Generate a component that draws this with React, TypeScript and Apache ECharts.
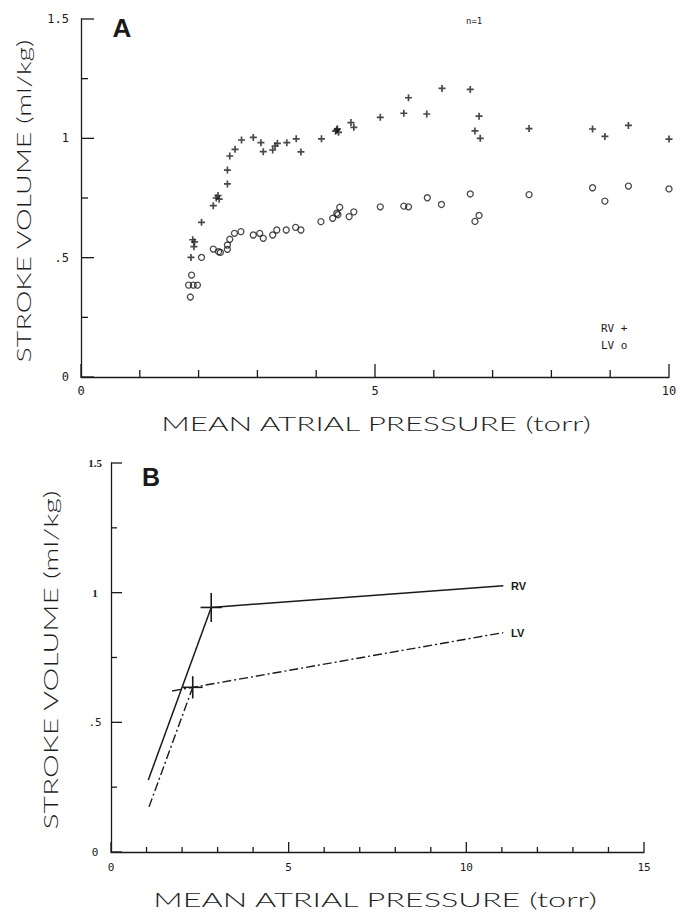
import React, { useEffect, useRef } from 'react';
import * as echarts from 'echarts';

// Panel A: individual measurements (n=1)
const rvPressureA = [1.87, 1.92, 1.9, 1.93, 2.05, 2.25, 2.3, 2.33, 2.35, 2.49, 2.49, 2.53, 2.62, 2.73, 2.93, 3.06, 3.1, 3.26, 3.3, 3.34, 3.5, 3.66, 3.74, 4.09, 4.33, 4.36, 4.38, 4.35, 4.59, 4.64, 5.09, 5.49, 5.57, 5.88, 6.14, 6.62, 6.77, 6.7, 6.79, 7.62, 8.7, 8.91, 9.31, 10.0];
const rvVolumeA = [0.501, 0.546, 0.575, 0.566, 0.648, 0.718, 0.75, 0.76, 0.745, 0.809, 0.867, 0.926, 0.954, 0.993, 1.004, 0.982, 0.944, 0.951, 0.968, 0.979, 0.982, 0.998, 0.943, 0.998, 1.03, 1.04, 1.025, 1.035, 1.066, 1.046, 1.088, 1.105, 1.17, 1.102, 1.209, 1.205, 1.093, 1.031, 1.0, 1.041, 1.039, 1.008, 1.054, 0.997];
const lvPressureA = [1.86, 1.83, 1.91, 1.98, 1.88, 2.05, 2.25, 2.34, 2.37, 2.49, 2.49, 2.53, 2.61, 2.72, 2.93, 3.04, 3.1, 3.26, 3.33, 3.49, 3.65, 3.74, 4.08, 4.28, 4.35, 4.37, 4.4, 4.56, 4.64, 5.09, 5.49, 5.57, 5.89, 6.13, 6.62, 6.77, 6.7, 7.62, 8.7, 8.91, 9.31, 10.0];
const lvVolumeA = [0.335, 0.385, 0.385, 0.385, 0.427, 0.501, 0.536, 0.525, 0.522, 0.553, 0.535, 0.577, 0.602, 0.609, 0.595, 0.602, 0.581, 0.595, 0.616, 0.616, 0.627, 0.616, 0.651, 0.665, 0.686, 0.68, 0.711, 0.672, 0.692, 0.713, 0.716, 0.713, 0.751, 0.723, 0.767, 0.677, 0.652, 0.764, 0.793, 0.737, 0.8, 0.788];

// Panel B: fitted function curves
const rvSteepB = [[1.05, 0.278], [2.82, 0.943]];
const rvFlatB = [[2.82, 0.943], [11.04, 1.027]];
const lvSteepB = [[1.07, 0.174], [2.3, 0.635]];
const lvFlatB = [[1.72, 0.621], [2.3, 0.635], [11.04, 0.846]];
// [pressure, volume, pressure error, volume error]
const rvMeanB = [2.82, 0.943, 0.3, 0.056];
const lvMeanB = [2.3, 0.635, 0.28, 0.043];

// Axis ticks
const xTicksA = [0, 1, 2, 3, 4, 5, 6, 7, 8, 9, 10];
const xTicksB = [0, 1, 2, 3, 4, 5, 6, 7, 8, 9, 10, 11, 12, 13, 14, 15];
const yTicks = [0, 0.25, 0.5, 0.75, 1, 1.25, 1.5];

const xMaxA = 10;
const xMaxB = 15;
const yMax = 1.5;

const xTitle = 'MEAN ATRIAL PRESSURE (torr)';
const yTitle = 'STROKE VOLUME (ml/kg)';

const MONO = 'DejaVu Sans Mono';
const INK = '#1a1a1a';
const TITLE_FONT = 'Lato';
const TITLE_SIZE = 20;

const plusPath = 'path://M0,3.8H10V6.2H0Z M3.8,0H6.2V10H3.8Z';

function yLabel(v: number) {
  return v === 0.5 ? '.5' : String(v);
}

function measure(text: string, font: string) {
  const c = document.createElement('canvas').getContext('2d');
  if (!c) return text.length * 11;
  c.font = font;
  return c.measureText(text).width;
}

function tickSeries(axis: 'x' | 'y', idx: number, values: number[], major: number, majorLen: number, minorLen: number) {
  return {
    type: 'custom',
    xAxisIndex: idx,
    yAxisIndex: idx,
    silent: true,
    z: 5,
    encode: { x: 0, y: 1 },
    data: values.map((v) => (axis === 'x' ? [v, 0] : [0, v])),
    renderItem: (_p: any, api: any) => {
      const v = axis === 'x' ? api.value(0) : api.value(1);
      const pt = api.coord([api.value(0), api.value(1)]);
      const isMajor = Math.abs(v / major - Math.round(v / major)) < 1e-6;
      const len = isMajor ? majorLen : minorLen;
      const shape = axis === 'x'
        ? { x1: pt[0], y1: pt[1], x2: pt[0], y2: pt[1] - len }
        : { x1: pt[0], y1: pt[1], x2: pt[0] + len, y2: pt[1] };
      return { type: 'line', shape, style: { stroke: INK, lineWidth: 1.3 } };
    },
  };
}

export default function App() {
  const ref = useRef<HTMLDivElement>(null);
  useEffect(() => {
    if (!ref.current) return;
    const chart = echarts.init(ref.current, undefined, { renderer: 'svg' });

    const titleFont = `300 ${TITLE_SIZE}px ${TITLE_FONT}`;
    const xw = measure(xTitle, titleFont);
    const yw = measure(yTitle, titleFont);

    const axisLine = { show: true, onZero: false, lineStyle: { color: INK, width: 1.3 } };
    const noTick = { show: false };

    const titleStyle = (text: string) => ({
      text,
      fontFamily: TITLE_FONT,
      fontWeight: 300,
      fontSize: TITLE_SIZE,
      fill: '#1e1e1e',
      align: 'center',
      verticalAlign: 'middle',
    });

    const option: any = {
      animation: false,
      backgroundColor: '#ffffff',
      grid: [
        { left: 81, top: 19, width: 588, height: 358 },
        { left: 111, top: 463, width: 533, height: 389 },
      ],
      xAxis: [
        {
          gridIndex: 0, type: 'value', min: 0, max: xMaxA, interval: 5,
          axisLine, axisTick: noTick, minorTick: noTick,
          splitLine: { show: false }, minorSplitLine: { show: false },
          axisLabel: { margin: 8, fontFamily: MONO, fontSize: 12, color: INK, showMinLabel: true, showMaxLabel: true },
        },
        {
          gridIndex: 1, type: 'value', min: 0, max: xMaxB, interval: 5,
          axisLine, axisTick: noTick, minorTick: noTick,
          splitLine: { show: false }, minorSplitLine: { show: false },
          axisLabel: { margin: 10, fontFamily: MONO, fontSize: 11, color: INK, showMinLabel: true, showMaxLabel: true },
        },
      ],
      yAxis: [
        {
          gridIndex: 0, type: 'value', min: 0, max: yMax, interval: 0.5,
          axisLine, axisTick: noTick, minorTick: noTick,
          splitLine: { show: false }, minorSplitLine: { show: false },
          axisLabel: { margin: 12, fontFamily: MONO, fontSize: 12, color: INK, formatter: yLabel },
        },
        {
          gridIndex: 1, type: 'value', min: 0, max: yMax, interval: 0.5,
          axisLine, axisTick: noTick, minorTick: noTick,
          splitLine: { show: false }, minorSplitLine: { show: false },
          axisLabel: {
            margin: 16, align: 'center', color: INK,
            formatter: (v: number) => (v >= 1 ? `{s|${v}}` : `{m|${yLabel(v)}}`),
            rich: {
              s: { fontFamily: 'Liberation Serif', fontWeight: 'bold', fontSize: 11, color: INK },
              m: { fontFamily: MONO, fontSize: 11, color: INK },
            },
          },
        },
      ],
      series: [
        tickSeries('x', 0, xTicksA, 5, 13, 7),
        tickSeries('y', 0, yTicks, 0.5, 13, 7),
        tickSeries('x', 1, xTicksB, 5, 10, 5),
        tickSeries('y', 1, yTicks, 0.5, 11, 6),
        {
          name: 'RV', type: 'scatter', xAxisIndex: 0, yAxisIndex: 0,
          symbol: plusPath, symbolSize: 7, silent: true,
          itemStyle: { color: INK },
          data: rvPressureA.map((x, i) => [x, rvVolumeA[i]]),
        },
        {
          name: 'LV', type: 'scatter', xAxisIndex: 0, yAxisIndex: 0,
          symbol: 'circle', symbolSize: 6, silent: true,
          itemStyle: { color: 'rgba(0,0,0,0)', borderColor: INK, borderWidth: 1.3 },
          data: lvPressureA.map((x, i) => [x, lvVolumeA[i]]),
        },
        {
          type: 'line', xAxisIndex: 1, yAxisIndex: 1, symbol: 'none', silent: true,
          lineStyle: { color: INK, width: 1.5, type: 'solid' }, data: rvSteepB,
        },
        {
          type: 'line', xAxisIndex: 1, yAxisIndex: 1, symbol: 'none', silent: true,
          lineStyle: { color: INK, width: 1.5, type: 'solid' }, data: rvFlatB,
        },
        {
          type: 'line', xAxisIndex: 1, yAxisIndex: 1, symbol: 'none', silent: true,
          lineStyle: { color: INK, width: 1.4, type: [9, 3, 2, 3] }, data: lvSteepB,
        },
        {
          type: 'line', xAxisIndex: 1, yAxisIndex: 1, symbol: 'none', silent: true,
          lineStyle: { color: INK, width: 1.4, type: [9, 3, 2, 3] }, data: lvFlatB,
        },
        {
          type: 'custom', xAxisIndex: 1, yAxisIndex: 1, silent: true,
          encode: { x: 0, y: 1 },
          data: [rvMeanB, lvMeanB],
          renderItem: (_params: any, api: any) => {
            const x = api.value(0), y = api.value(1), ex = api.value(2), ey = api.value(3);
            const l = api.coord([x - ex, y]);
            const r = api.coord([x + ex, y]);
            const t = api.coord([x, y + ey]);
            const b = api.coord([x, y - ey]);
            const st = { stroke: INK, lineWidth: 1.6 };
            return {
              type: 'group',
              children: [
                { type: 'line', shape: { x1: l[0], y1: l[1], x2: r[0], y2: r[1] }, style: st },
                { type: 'line', shape: { x1: t[0], y1: t[1], x2: b[0], y2: b[1] }, style: st },
              ],
            };
          },
        },
      ],
      graphic: [
        { type: 'text', x: 122, y: 28, style: { text: 'A', fontFamily: 'Liberation Sans', fontWeight: 'bold', fontSize: 26, fill: INK, align: 'center', verticalAlign: 'middle' } },
        { type: 'text', x: 151, y: 477, style: { text: 'B', fontFamily: 'Liberation Sans', fontWeight: 'bold', fontSize: 25, fill: INK, align: 'center', verticalAlign: 'middle' } },
        { type: 'text', x: 466, y: 21, style: { text: 'n=1', fontFamily: MONO, fontSize: 9, fill: INK, align: 'left', verticalAlign: 'middle' } },
        { type: 'text', x: 601, y: 328, style: { text: 'RV +', fontFamily: MONO, fontSize: 11, fill: INK, align: 'left', verticalAlign: 'middle' } },
        { type: 'text', x: 601, y: 345, style: { text: 'LV o', fontFamily: MONO, fontSize: 11, fill: INK, align: 'left', verticalAlign: 'middle' } },
        { type: 'text', x: 511, y: 586, style: { text: 'RV', fontFamily: 'Liberation Sans', fontWeight: 'bold', fontSize: 11, fill: INK, align: 'left', verticalAlign: 'middle' } },
        { type: 'text', x: 511, y: 633, style: { text: 'LV', fontFamily: 'Liberation Sans', fontWeight: 'bold', fontSize: 11, fill: INK, align: 'left', verticalAlign: 'middle' } },
        { type: 'text', x: 376, y: 423, scaleX: 432 / xw, style: titleStyle(xTitle) },
        { type: 'text', x: 375, y: 899, scaleX: 446 / xw, style: titleStyle(xTitle) },
        { type: 'text', x: 23, y: 201, rotation: Math.PI / 2, scaleX: 324 / yw, style: titleStyle(yTitle) },
        { type: 'text', x: 50, y: 660, rotation: Math.PI / 2, scaleX: 340 / yw, style: titleStyle(yTitle) },
      ],
    };

    chart.setOption(option);
    return () => {
      chart.dispose();
    };
  }, []);

  return (
    <div
      ref={ref}
      style={{ position: 'absolute', left: 0, top: 0, width: 680, height: 913, background: '#fff' }}
    />
  );
}
